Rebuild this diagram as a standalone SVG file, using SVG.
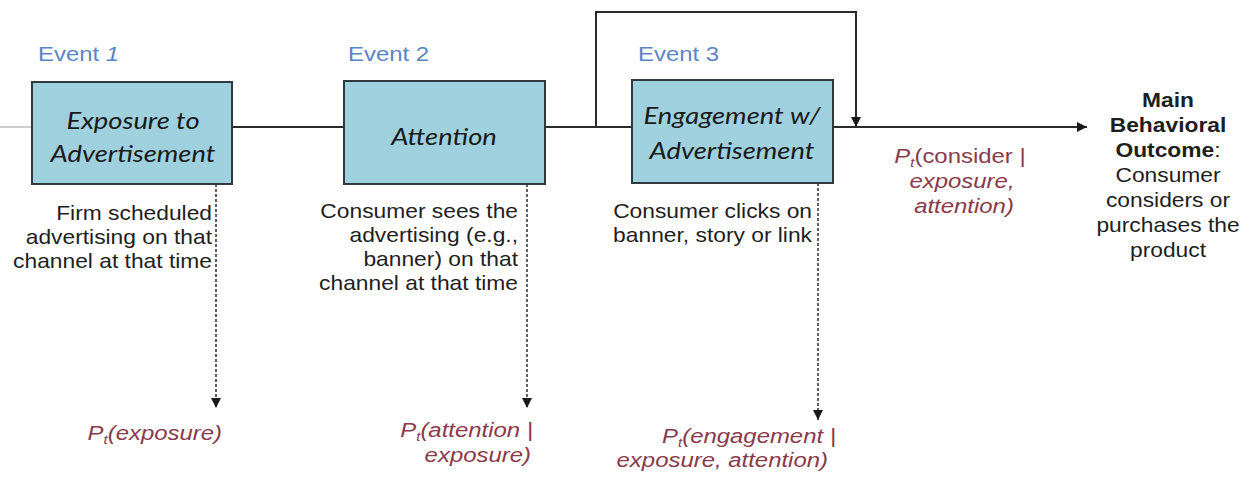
<svg xmlns="http://www.w3.org/2000/svg" width="1252" height="477" viewBox="0 0 1252 477">
<style>
.box{fill:#9fd0de;stroke:#2e3a3d;stroke-width:2}
.bt{font-family:Lato,"Open Sans",sans-serif;font-style:italic;font-size:24px;fill:#1a1a1a;text-anchor:middle}
.ev{font-family:"Liberation Sans",Arial,sans-serif;font-size:21px;fill:#5b84c6}
.ds{font-family:"Liberation Sans",Arial,sans-serif;font-size:20px;fill:#1e1e1e;text-anchor:end}
.pr{font-family:"Liberation Sans",Arial,sans-serif;font-style:italic;font-size:21px;fill:#8a3a4a}
.out{font-family:"Liberation Sans",Arial,sans-serif;font-size:20px;fill:#1e1e1e;text-anchor:middle}
.ln{stroke:#2a2a2a;stroke-width:2;fill:none}
.dash{stroke:#3a3a3a;stroke-width:1.6;stroke-dasharray:3 2;fill:none}
</style>
<defs>
<marker id="ah" viewBox="0 0 10 10" refX="10" refY="5" markerWidth="10" markerHeight="10" markerUnits="userSpaceOnUse" orient="auto">
<path d="M0,0 L10,5 L0,10 z" fill="#1a1a1a"/>
</marker>
</defs>
<g id="connectors">
<line x1="0" y1="127" x2="33" y2="127" stroke="#cfcfcf" stroke-width="2"/>
<line class="ln" x1="33" y1="127" x2="1087" y2="127" marker-end="url(#ah)"/>
<path class="ln" d="M596,127 V12 H856 V127" marker-end="url(#ah)"/>
<line class="dash" x1="216" y1="184" x2="216" y2="408" marker-end="url(#ah)"/>
<line class="dash" x1="527" y1="184" x2="527" y2="408" marker-end="url(#ah)"/>
<line class="dash" x1="818" y1="183" x2="818" y2="420" marker-end="url(#ah)"/>
</g>
<g id="event1">
<text class="ev" transform="translate(38 61) scale(1.14 1)">Event <tspan font-style="italic">1</tspan></text>
<rect class="box" x="32" y="82" width="200" height="102"/>
<text class="bt" transform="translate(133 129) scale(1.14 1)">Exposure to</text>
<text class="bt" transform="translate(133 162) scale(1.14 1)">Advertisement</text>
<g transform="translate(212 0) scale(1.14 1)">
<text class="ds" x="0" y="220">Firm scheduled</text>
<text class="ds" x="0" y="244">advertising on that</text>
<text class="ds" x="0" y="268">channel at that time</text>
</g>
</g>
<g id="event2">
<text class="ev" transform="translate(348 61) scale(1.14 1)">Event 2</text>
<rect class="box" x="344" y="81" width="201" height="103"/>
<text class="bt" transform="translate(444 145) scale(1.14 1)">Attention</text>
<g transform="translate(518 0) scale(1.14 1)">
<text class="ds" x="0" y="218">Consumer sees the</text>
<text class="ds" x="0" y="242">advertising (e.g.,</text>
<text class="ds" x="0" y="266">banner) on that</text>
<text class="ds" x="0" y="290">channel at that time</text>
</g>
</g>
<g id="event3">
<text class="ev" transform="translate(638 61) scale(1.14 1)">Event 3</text>
<rect class="box" x="632" y="80" width="201" height="103"/>
<text class="bt" transform="translate(732 124) scale(1.14 1)">Engagement w/</text>
<text class="bt" transform="translate(732 159) scale(1.14 1)">Advertisement</text>
<g transform="translate(812 0) scale(1.14 1)">
<text class="ds" x="0" y="218">Consumer clicks on</text>
<text class="ds" x="0" y="242">banner, story or link</text>
</g>
</g>
<g id="prob-exposure">
<text class="pr" transform="translate(222 440) scale(1.14 1)" text-anchor="end">P<tspan font-size="13" dy="4">t</tspan><tspan dy="-4">(exposure)</tspan></text>
</g>
<g id="prob-attention">
<text class="pr" transform="translate(533 437) scale(1.14 1)" text-anchor="end">P<tspan font-size="13" dy="4">t</tspan><tspan dy="-4">(attention |</tspan></text>
<text class="pr" transform="translate(531 462) scale(1.14 1)" text-anchor="end">exposure)</text>
</g>
<g id="prob-engagement">
<text class="pr" transform="translate(836 443) scale(1.14 1)" text-anchor="end">P<tspan font-size="13" dy="4">t</tspan><tspan dy="-4">(engagement |</tspan></text>
<text class="pr" transform="translate(828 467) scale(1.14 1)" text-anchor="end">exposure, attention)</text>
</g>
<g id="prob-consider">
<text class="pr" transform="translate(960 163) scale(1.14 1)" text-anchor="middle">P<tspan font-size="13" dy="4">t</tspan><tspan dy="-4" font-style="normal">(consider |</tspan></text>
<text class="pr" transform="translate(962 188) scale(1.14 1)" text-anchor="middle">exposure,</text>
<text class="pr" transform="translate(964 213) scale(1.14 1)" text-anchor="middle">attention)</text>
</g>
<g id="outcome" transform="translate(1168 0) scale(1.14 1)">
<text class="out" x="0" y="107" font-weight="bold">Main</text>
<text class="out" x="0" y="132" font-weight="bold">Behavioral</text>
<text class="out" x="0" y="157"><tspan font-weight="bold">Outcome</tspan>:</text>
<text class="out" x="0" y="182">Consumer</text>
<text class="out" x="0" y="207">considers or</text>
<text class="out" x="0" y="232">purchases the</text>
<text class="out" x="0" y="257">product</text>
</g>
</svg>
